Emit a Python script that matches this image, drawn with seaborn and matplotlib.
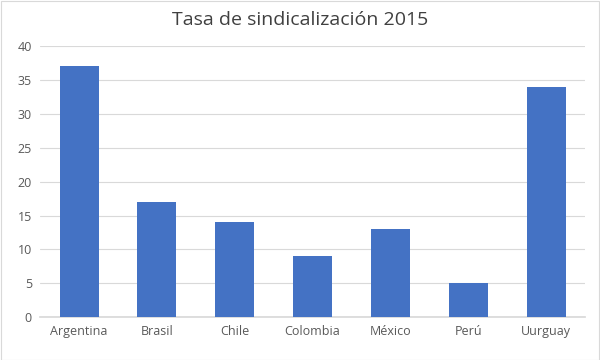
import pandas as pd
import numpy as np
import matplotlib.pyplot as plt
import seaborn as sns

paises = ["Argentina", "Brasil", "Chile", "Colombia", "México", "Perú", "Uurguay"]
tasas = [37, 17, 14, 9, 13, 5, 34]
yticks = [0, 5, 10, 15, 20, 25, 30, 35, 40]

sns.set_theme(style="white")
plt.rcParams['font.family'] = ['Open Sans', 'DejaVu Sans']

df = pd.DataFrame({"pais": paises, "tasa": tasas})

fig = plt.figure(figsize=(6, 3.6), dpi=100)
ax = fig.add_axes([0.067, 0.119, 0.908, 0.753])

sns.barplot(data=df, x="pais", y="tasa", color="#4472C4", saturation=1,
            width=0.5, linewidth=0, ax=ax, zorder=3)

ax.set_ylim(0, 40)
ax.set_yticks(yticks)
ax.yaxis.grid(True, color="#D9D9D9", linewidth=0.8, zorder=0)
ax.set_xlabel("")
ax.set_ylabel("")
for s in ["top", "right", "left"]:
    ax.spines[s].set_visible(False)
ax.spines["bottom"].set_color("#D9D9D9")
ax.tick_params(axis="both", labelsize=9, colors="#595959", length=0, pad=6)

fig.suptitle("Tasa de sindicalización 2015", fontsize=14, color="#404040", y=0.97)

# thin chart-area border like the Excel original
fig.patches.append(plt.Rectangle((0.001, 0.001), 0.997, 0.997, transform=fig.transFigure,
                                 fill=False, edgecolor="#D9D9D9", linewidth=0.8))

plt.savefig("out.png", dpi=100)
